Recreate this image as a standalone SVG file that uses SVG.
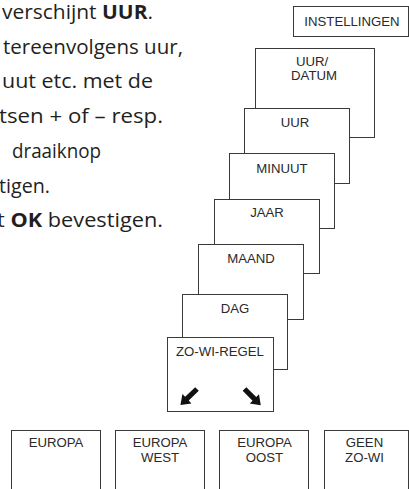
<svg xmlns="http://www.w3.org/2000/svg" width="409" height="489" viewBox="0 0 409 489">
<style>
.t{font-family:"Open Sans","Noto Sans",sans-serif;font-size:19.5px;fill:#231f20}
.b{font-weight:bold}
.box{fill:#fff;stroke:#3a3a3a;stroke-width:1}
.lb{font-family:"Liberation Sans",Arial,sans-serif;font-size:13.2px;fill:#2a2a2a;text-anchor:middle}
.ar{fill:#111}
</style>
<rect width="409" height="489" fill="#fff"/>
<g id="paragraph">
<text class="t" x="2" y="19" textLength="151" lengthAdjust="spacingAndGlyphs">verschijnt <tspan class="b">UUR</tspan>.</text>
<text class="t" x="3" y="53.7" textLength="180" lengthAdjust="spacingAndGlyphs">tereenvolgens uur,</text>
<text class="t" x="2" y="88.4" textLength="151" lengthAdjust="spacingAndGlyphs">uut etc. met de</text>
<text class="t" x="-1" y="123.1" textLength="164" lengthAdjust="spacingAndGlyphs">tsen + of – resp.</text>
<text class="t" x="12" y="157.8" textLength="89" lengthAdjust="spacingAndGlyphs">draaiknop</text>
<text class="t" x="-1" y="192.5" textLength="51" lengthAdjust="spacingAndGlyphs">tigen.</text>
<text class="t" x="-3" y="227.2" textLength="166" lengthAdjust="spacingAndGlyphs">t <tspan class="b">OK</tspan> bevestigen.</text>
</g>
<g id="instellingen">
<rect class="box" x="293.5" y="6.5" width="115" height="30"/>
<text class="lb" x="352" y="26">INSTELLINGEN</text>
</g>
<g id="uur-datum">
<rect class="box" x="255.5" y="48.5" width="119" height="89"/>
<text class="lb" x="312" y="66">UUR/</text>
<text class="lb" x="314" y="80">DATUM</text>
</g>
<g id="uur">
<rect class="box" x="244.5" y="108.5" width="105" height="75"/>
<text class="lb" x="295" y="127">UUR</text>
</g>
<g id="minuut">
<rect class="box" x="229.5" y="153.5" width="105" height="75"/>
<text class="lb" x="282" y="172.5">MINUUT</text>
</g>
<g id="jaar">
<rect class="box" x="214.5" y="199.5" width="105" height="74"/>
<text class="lb" x="267" y="217">JAAR</text>
</g>
<g id="maand">
<rect class="box" x="198.5" y="244.5" width="105" height="75"/>
<text class="lb" x="251" y="263">MAAND</text>
</g>
<g id="dag">
<rect class="box" x="182.5" y="294.5" width="105" height="75"/>
<text class="lb" x="235" y="313">DAG</text>
</g>
<g id="zo-wi-regel">
<rect class="box" x="167.5" y="337.5" width="106" height="74"/>
<text class="lb" x="220" y="356">ZO-WI-REGEL</text>
<polygon class="ar" transform="translate(197,389) rotate(136)" points="0,-2.6 14,-2.6 14,-6.5 23,0 14,6.5 14,2.6 0,2.6"/>
<polygon class="ar" transform="translate(244.5,389) rotate(45)" points="0,-2.6 14,-2.6 14,-6.5 23,0 14,6.5 14,2.6 0,2.6"/>
</g>
<g id="europa">
<rect class="box" x="11.5" y="430.5" width="89" height="70"/>
<text class="lb" x="56" y="447">EUROPA</text>
</g>
<g id="europa-west">
<rect class="box" x="115.5" y="430.5" width="89" height="70"/>
<text class="lb" x="160" y="447">EUROPA</text>
<text class="lb" x="160" y="462">WEST</text>
</g>
<g id="europa-oost">
<rect class="box" x="219.5" y="430.5" width="89" height="70"/>
<text class="lb" x="264.5" y="447">EUROPA</text>
<text class="lb" x="264.5" y="462">OOST</text>
</g>
<g id="geen-zo-wi">
<rect class="box" x="324.5" y="430.5" width="84" height="70"/>
<text class="lb" x="364.5" y="447">GEEN</text>
<text class="lb" x="364.5" y="462">ZO-WI</text>
</g>
<g id="connectors"></g>
</svg>
